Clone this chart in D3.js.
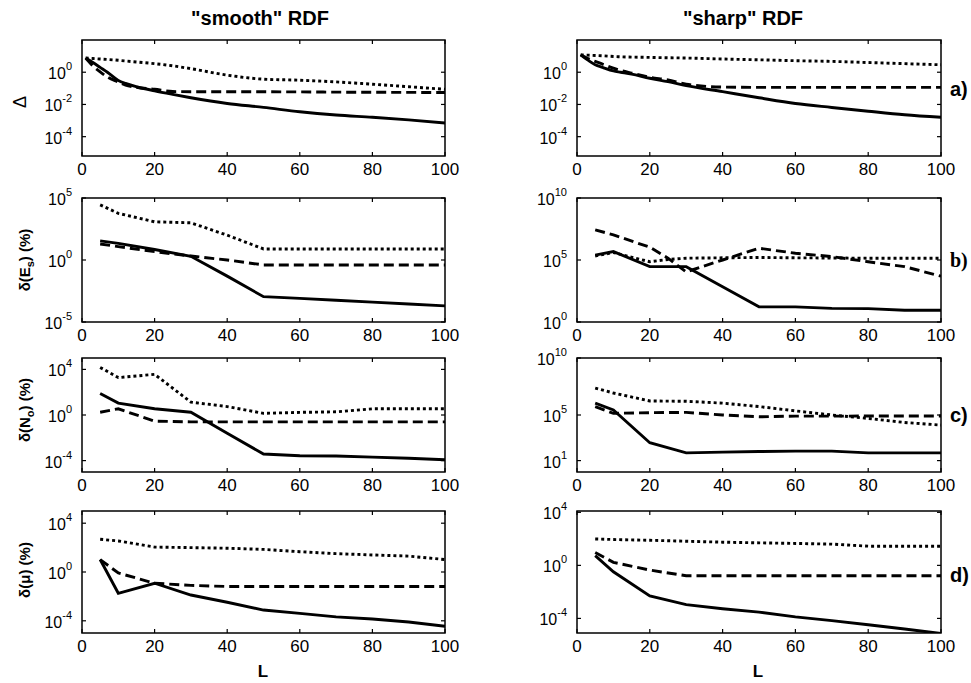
<!DOCTYPE html>
<html>
<head>
<meta charset="utf-8">
<script src="https://cdn.jsdelivr.net/npm/d3@7"></script>
<style>
  body { margin: 0; background: #fff; }
  svg { font-family: "Liberation Sans", Arial, sans-serif; }
</style>
</head>
<body>
<div id="vis"></div>
<script>
// L values
const L_a = [1, 3, 5, 7, 10, 12, 15, 20, 25, 30, 40, 50, 60, 70, 80, 90, 100];
const L_b = [5, 10, 20, 30, 40, 50, 60, 70, 80, 90, 100];
const L_bSharp = [5, 10, 20, 25, 30, 40, 50, 60, 70, 80, 90, 100];

// a) Delta
const aSmoothSolid = [7.6, 4.0, 2.0, 1.0, 0.31, 0.2, 0.125, 0.07, 0.042, 0.026, 0.0115, 0.0066, 0.0035, 0.0022, 0.0016, 0.0011, 0.0007];
const aSmoothDash = [7.6, 2.5, 1.05, 0.5, 0.25, 0.16, 0.115, 0.087, 0.063, 0.062, 0.062, 0.061, 0.06, 0.058, 0.057, 0.056, 0.055];
const aSmoothDot = [7.6, 7.1, 6.6, 6.2, 5.5, 5.0, 4.3, 3.4, 2.5, 1.66, 0.66, 0.37, 0.32, 0.25, 0.18, 0.126, 0.087];
const aSharpSolid = [12, 5.6, 2.9, 2.0, 1.2, 1.0, 0.76, 0.42, 0.26, 0.148, 0.062, 0.026, 0.0115, 0.0065, 0.0038, 0.0023, 0.0016];
const aSharpDash = [12, 7.1, 4.7, 3.2, 1.8, 1.3, 0.89, 0.49, 0.33, 0.18, 0.12, 0.115, 0.115, 0.115, 0.115, 0.115, 0.115];
const aSharpDot = [12, 11.5, 11, 10.5, 9.5, 9.1, 8.7, 8.3, 7.9, 7.6, 6.6, 5.9, 5.2, 4.7, 4.0, 3.4, 2.9];

// b) delta(Es)
const bSmoothSolid = [35, 22, 7, 2, 0.05, 1.1e-3, 8e-4, 5.6e-4, 4e-4, 2.8e-4, 2e-4];
const bSmoothDash = [19.5, 12, 4.7, 2.1, 1.0, 0.4, 0.4, 0.4, 0.4, 0.4, 0.4];
const bSmoothDot = [2.8e4, 5.8e3, 1.2e3, 1.0e3, 100, 7.8, 7.8, 7.8, 7.8, 7.8, 7.8];
const bSharpSolid = [2.5e5, 4.8e5, 2.9e4, 2.9e4, 2.9e4, 690, 16.6, 16.6, 12.6, 12, 8.9, 8.9];
const bSharpDash = [2.7e7, 1.07e7, 1.07e6, 1.4e5, 1.1e4, 1e5, 8.9e5, 3.5e5, 1.9e5, 7.2e4, 2.9e4, 5e3];
const bSharpDot = [2.1e5, 4e5, 7.2e4, 1.1e5, 1.4e5, 1.5e5, 1.6e5, 1.5e5, 1.45e5, 1.4e5, 1.4e5, 1.4e5];

// c) delta(No)
const cSmoothSolid = [76, 11, 3.5, 1.74, 0.025, 3.8e-4, 2.7e-4, 2.5e-4, 2e-4, 1.6e-4, 1.2e-4];
const cSmoothDash = [1.74, 3.5, 0.29, 0.25, 0.25, 0.25, 0.25, 0.25, 0.25, 0.25, 0.25];
const cSmoothDot = [1.5e4, 1.9e3, 3.7e3, 13.5, 5.5, 1.4, 1.7, 1.9, 3.5, 3.5, 3.5];
const cSharpSolid = [1.1e6, 2.8e5, 370, 48, 55, 63, 68, 68, 48, 48, 48];
const cSharpDash = [5.5e5, 1.4e5, 1.6e5, 1.7e5, 1e5, 7e4, 8e4, 8e4, 8.1e4, 8.1e4, 8.1e4];
const cSharpDot = [2.3e7, 8.5e6, 1.7e6, 1.6e6, 1.1e6, 5.5e5, 2.3e5, 1e5, 5e4, 2.2e4, 1.3e4];

// d) delta(mu)
const dSmoothSolid = [10.5, 0.018, 0.12, 0.013, 3.3e-3, 7.6e-4, 4.1e-4, 2.1e-4, 1.4e-4, 8e-5, 3.6e-5];
const dSmoothDash = [10.5, 0.83, 0.12, 0.08, 0.065, 0.065, 0.065, 0.065, 0.065, 0.065, 0.065];
const dSmoothDot = [480, 350, 110, 100, 89, 71, 46, 32, 25, 20, 10.5];
const dSharpSolid = [5.4, 0.33, 5e-3, 1.1e-3, 5.4e-4, 3e-4, 1.3e-4, 6.8e-5, 3.3e-5, 1.6e-5, 7.2e-6];
const dSharpDash = [9.3, 1.7, 0.44, 0.166, 0.166, 0.166, 0.166, 0.166, 0.166, 0.166, 0.166];
const dSharpDot = [98, 89, 78, 66, 56, 50, 45, 40, 28, 28, 28];

const xTicks = [0, 20, 40, 60, 80, 100];
const columnTitles = ['"smooth" RDF', '"sharp" RDF'];
const rowTags = ['a)', 'b)', 'c)', 'd)'];

const width = 971;
const height = 683;

const cols = [{ x0: 82, x1: 445 }, { x0: 577, x1: 941 }];
const rows = [
  { y0: 40, y1: 156 },
  { y0: 198, y1: 322 },
  { y0: 358, y1: 472 },
  { y0: 511, y1: 633 }
];

const panels = [
  { r: 0, c: 0, L: L_a, lo: -5.2, hi: 2, ticks: [0, -2, -4], solid: aSmoothSolid, dash: aSmoothDash, dot: aSmoothDot },
  { r: 0, c: 1, L: L_a, lo: -5.2, hi: 2, ticks: [0, -2, -4], solid: aSharpSolid, dash: aSharpDash, dot: aSharpDot },
  { r: 1, c: 0, L: L_b, lo: -5, hi: 5, ticks: [5, 0, -5], solid: bSmoothSolid, dash: bSmoothDash, dot: bSmoothDot },
  { r: 1, c: 1, L: L_bSharp, lo: 0, hi: 10, ticks: [10, 5, 0], solid: bSharpSolid, dash: bSharpDash, dot: bSharpDot },
  { r: 2, c: 0, L: L_b, lo: -5, hi: 5, ticks: [4, 0, -4], solid: cSmoothSolid, dash: cSmoothDash, dot: cSmoothDot },
  { r: 2, c: 1, L: L_b, lo: 0, hi: 10, ticks: [10, 5, 1], solid: cSharpSolid, dash: cSharpDash, dot: cSharpDot },
  { r: 3, c: 0, L: L_b, lo: -5, hi: 5, ticks: [4, 0, -4], solid: dSmoothSolid, dash: dSmoothDash, dot: dSmoothDot },
  { r: 3, c: 1, L: L_b, lo: -5.1, hi: 4.1, ticks: [4, 0, -4], solid: dSharpSolid, dash: dSharpDash, dot: dSharpDot }
];

const svg = d3.select('#vis').append('svg')
  .attr('width', width)
  .attr('height', height);

panels.forEach((p, i) => {
  const col = cols[p.c];
  const row = rows[p.r];
  const x = d3.scaleLinear().domain([0, 100]).range([col.x0, col.x1]);
  const y = d3.scaleLog().domain([Math.pow(10, p.lo), Math.pow(10, p.hi)]).range([row.y1, row.y0]);

  const g = svg.append('g');

  svg.append('clipPath').attr('id', 'clip' + i)
    .append('rect')
    .attr('x', col.x0).attr('y', row.y0)
    .attr('width', col.x1 - col.x0).attr('height', row.y1 - row.y0);

  const line = d3.line()
    .x((d, j) => x(p.L[j]))
    .y(d => y(d));
  if (p.r === 0) line.curve(d3.curveMonotoneX);

  const series = [
    { data: p.dot, dash: '3,3' },
    { data: p.dash, dash: '10,5' },
    { data: p.solid, dash: null }
  ];
  g.append('g').attr('clip-path', `url(#clip${i})`)
    .selectAll('path').data(series).join('path')
    .attr('d', d => line(d.data))
    .attr('fill', 'none')
    .attr('stroke', '#000')
    .attr('stroke-width', 2.9)
    .attr('stroke-dasharray', d => d.dash);

  // box
  g.append('rect')
    .attr('x', col.x0).attr('y', row.y0)
    .attr('width', col.x1 - col.x0).attr('height', row.y1 - row.y0)
    .attr('fill', 'none').attr('stroke', '#000').attr('stroke-width', 1.5);

  // x ticks, inward on bottom and top
  const tk = 4;
  xTicks.forEach(t => {
    g.append('line').attr('x1', x(t)).attr('x2', x(t)).attr('y1', row.y1).attr('y2', row.y1 - tk)
      .attr('stroke', '#000').attr('stroke-width', 1.2);
    g.append('line').attr('x1', x(t)).attr('x2', x(t)).attr('y1', row.y0).attr('y2', row.y0 + tk)
      .attr('stroke', '#000').attr('stroke-width', 1.2);
    g.append('text')
      .attr('x', x(t)).attr('y', row.y1 + 19)
      .attr('text-anchor', 'middle')
      .attr('font-size', 17)
      .text(t);
  });

  // y ticks, inward on left and right
  p.ticks.forEach(e => {
    const yy = y(Math.pow(10, e));
    g.append('line').attr('x1', col.x0).attr('x2', col.x0 + tk).attr('y1', yy).attr('y2', yy)
      .attr('stroke', '#000').attr('stroke-width', 1.2);
    g.append('line').attr('x1', col.x1).attr('x2', col.x1 - tk).attr('y1', yy).attr('y2', yy)
      .attr('stroke', '#000').attr('stroke-width', 1.2);
    const lab = g.append('text')
      .attr('x', col.x0 - 10).attr('y', yy + 7)
      .attr('text-anchor', 'end')
      .attr('font-size', 16);
    lab.append('tspan').text('10');
    lab.append('tspan').attr('dy', -9).attr('font-size', 11).text(e);
  });
});

// column titles
columnTitles.forEach((t, i) => {
  svg.append('text')
    .attr('x', [260, 743][i]).attr('y', 25)
    .attr('text-anchor', 'middle')
    .attr('font-size', 20).attr('font-weight', 'bold')
    .text(t);
});

// row tags on the right
rowTags.forEach((t, i) => {
  svg.append('text')
    .attr('x', 950).attr('y', [89, 260, 415, 575][i] + 7)
    .attr('font-size', 20).attr('font-weight', 'bold')
    .attr('font-family', i === 1 ? '"Liberation Serif", "Times New Roman", serif' : null)
    .text(t);
});

// y labels
function yLabel(cy, build) {
  const t = svg.append('text')
    .attr('transform', `translate(30,${cy}) rotate(-90)`)
    .attr('text-anchor', 'middle')
    .attr('font-size', 15).attr('font-weight', 'bold');
  build(t);
}
svg.append('text')
  .attr('transform', 'translate(26,102) rotate(-90)')
  .attr('text-anchor', 'middle')
  .attr('font-size', 18)
  .text('Δ');
yLabel(260, t => {
  t.append('tspan').text('δ(E');
  t.append('tspan').attr('dy', 4).attr('font-size', 11).text('s');
  t.append('tspan').attr('dy', -4).text(') (%)');
});
yLabel(410, t => {
  t.append('tspan').text('δ(N');
  t.append('tspan').attr('dy', 4).attr('font-size', 11).text('o');
  t.append('tspan').attr('dy', -4).text(') (%)');
});
yLabel(570, t => {
  t.append('tspan').text('δ(μ) (%)');
});

// x labels
[263, 758].forEach(cx => {
  svg.append('text')
    .attr('x', cx).attr('y', 677)
    .attr('text-anchor', 'middle')
    .attr('font-size', 17).attr('font-weight', 'bold')
    .text('L');
});
</script>
</body>
</html>
